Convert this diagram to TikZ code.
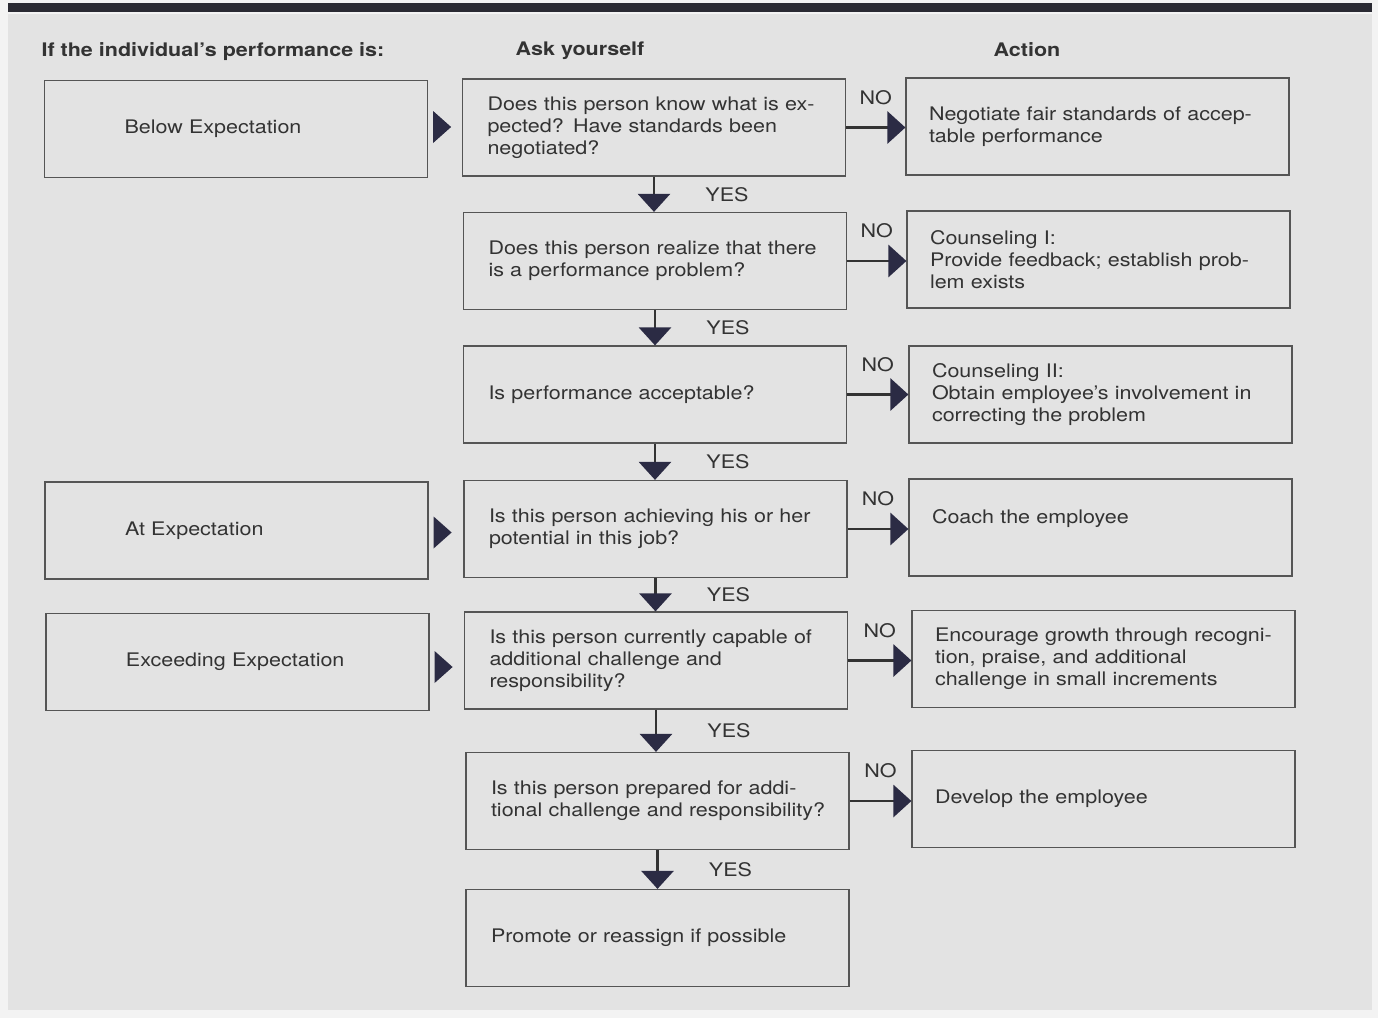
\documentclass[tikz,border=0pt]{standalone}
\usepackage{fontspec}
\setmainfont{TeX Gyre Heros}[FakeStretch=1.15]
\usetikzlibrary{arrows.meta,positioning}

\definecolor{paper}{HTML}{E3E3E3}
\definecolor{margin}{HTML}{F3F3F3}
\definecolor{topbar}{HTML}{2A2A33}
\definecolor{boxline}{HTML}{555555}
\definecolor{ink}{HTML}{333333}
\definecolor{tipclr}{HTML}{2B2B44}

\begin{document}
\begin{tikzpicture}[
    x=1pt, y=-1pt,
    every node/.style={text=ink, font=\fontsize{18.7}{22}\selectfont},
    box/.style={draw=boxline, line width=1.2pt, minimum height=97pt,
        text width=363pt, inner xsep=10pt, inner ysep=0pt, align=left},
    lbox/.style={box, execute at begin node={\leftskip=70pt}},
    qbox/.style={box, execute at begin node={\leftskip=15pt}},
    abox/.style={box, execute at begin node={\leftskip=13pt}},
    head/.style={font=\fontsize{18.7}{22}\selectfont\bfseries},
    flow/.style={draw=ink, line width=2.8pt, -{Triangle[length=18pt,width=32pt,color=tipclr]}}
]
    \useasboundingbox (0,0) rectangle (1378,1018);
    \fill[margin] (0,0) rectangle (1378,1018);
    \fill[paper] (8,14) rectangle (1372,1010);
    \fill[topbar] (8,3) rectangle (1372,12);

    % column heads
    \node[head, anchor=west] (hperf) at (38,52) {If the individual's performance is:};
    \node[head] (hask) at (580,51) {Ask yourself};
    \node[head] (hact) at (1027,50) {Action};

    % performance levels
    \node[lbox] (l1) at (236,129) {Below Expectation};
    \node[lbox] (l2) at (236.5,530.5) {At Expectation};
    \node[lbox] (l3) at (237.5,662) {Exceeding Expectation};

    % questions
    \node[qbox] (q1) at (654,127.5) {Does this person know what is ex-\\pected? Have standards been\\negotiated?};
    \node[qbox] (q2) at (655,261) {Does this person realize that there\\is a performance problem?\\[14pt]};
    \node[qbox] (q3) at (655,394.5) {Is performance acceptable?};
    \node[qbox] (q4) at (655.5,529) {Is this person achieving his or her\\potential in this job?};
    \node[qbox] (q5) at (656,660.5) {Is this person currently capable of\\additional challenge and\\responsibility?};
    \node[qbox] (q6) at (657.5,801) {Is this person prepared for addi-\\tional challenge and responsibility?};
    \node[qbox] (q7) at (657.5,938) {Promote or reassign if possible};

    % actions
    \node[abox] (a1) at (1097.5,126.5) {Negotiate fair standards of accep-\\table performance\\[14pt]};
    \node[abox] (a2) at (1098.5,259.5) {Counseling I:\\Provide feedback; establish prob-\\lem exists};
    \node[abox] (a3) at (1100.5,394.5) {Counseling II:\\Obtain employee's involvement in\\correcting the problem\\[4pt]};
    \node[abox] (a4) at (1100.5,527.5) {Coach the employee\\\mbox{}};
    \node[abox] (a5) at (1103.5,659) {Encourage growth through recogni-\\tion, praise, and additional\\challenge in small increments};
    \node[abox] (a6) at (1103.5,799) {Develop the employee};

    % pointers into the questions
    \fill[tipclr] ([xshift=5pt,yshift=18pt]l1.east) -- ([xshift=23pt,yshift=2pt]l1.east) -- ([xshift=5pt,yshift=-14pt]l1.east) -- cycle;
    \fill[tipclr] ([xshift=5pt,yshift=14pt]l2.east) -- ([xshift=23pt,yshift=-2pt]l2.east) -- ([xshift=5pt,yshift=-18pt]l2.east) -- cycle;
    \fill[tipclr] ([xshift=5pt,yshift=11pt]l3.east) -- ([xshift=23pt,yshift=-5pt]l3.east) -- ([xshift=5pt,yshift=-21pt]l3.east) -- cycle;

    % yes branch
    \draw[flow] (q1.south) -- (q1.south |- q2.north) node[midway, xshift=73pt] (y1) {YES};
    \draw[flow] (q2.south) -- (q2.south |- q3.north) node[midway, xshift=73pt] (y2) {YES};
    \draw[flow] (q3.south) -- (q3.south |- q4.north) node[midway, xshift=73pt] (y3) {YES};
    \draw[flow] (q4.south) -- (q4.south |- q5.north) node[midway, xshift=73pt] (y4) {YES};
    \draw[flow] (q5.south) -- (q5.south |- q6.north) node[midway, xshift=73pt] (y5) {YES};
    \draw[flow] (q6.south) -- (q6.south |- q7.north) node[midway, xshift=73pt] (y6) {YES};

    % no branch
    \draw[flow] (q1.east) -- (q1.east -| a1.west) node[midway, yshift=30pt] (n1) {NO};
    \draw[flow] (q2.east) -- (q2.east -| a2.west) node[midway, yshift=30pt] (n2) {NO};
    \draw[flow] (q3.east) -- (q3.east -| a3.west) node[midway, yshift=30pt] (n3) {NO};
    \draw[flow] (q4.east) -- (q4.east -| a4.west) node[midway, yshift=30pt] (n4) {NO};
    \draw[flow] (q5.east) -- (q5.east -| a5.west) node[midway, yshift=30pt] (n5) {NO};
    \draw[flow] (q6.east) -- (q6.east -| a6.west) node[midway, yshift=30pt] (n6) {NO};
\end{tikzpicture}
\end{document}
